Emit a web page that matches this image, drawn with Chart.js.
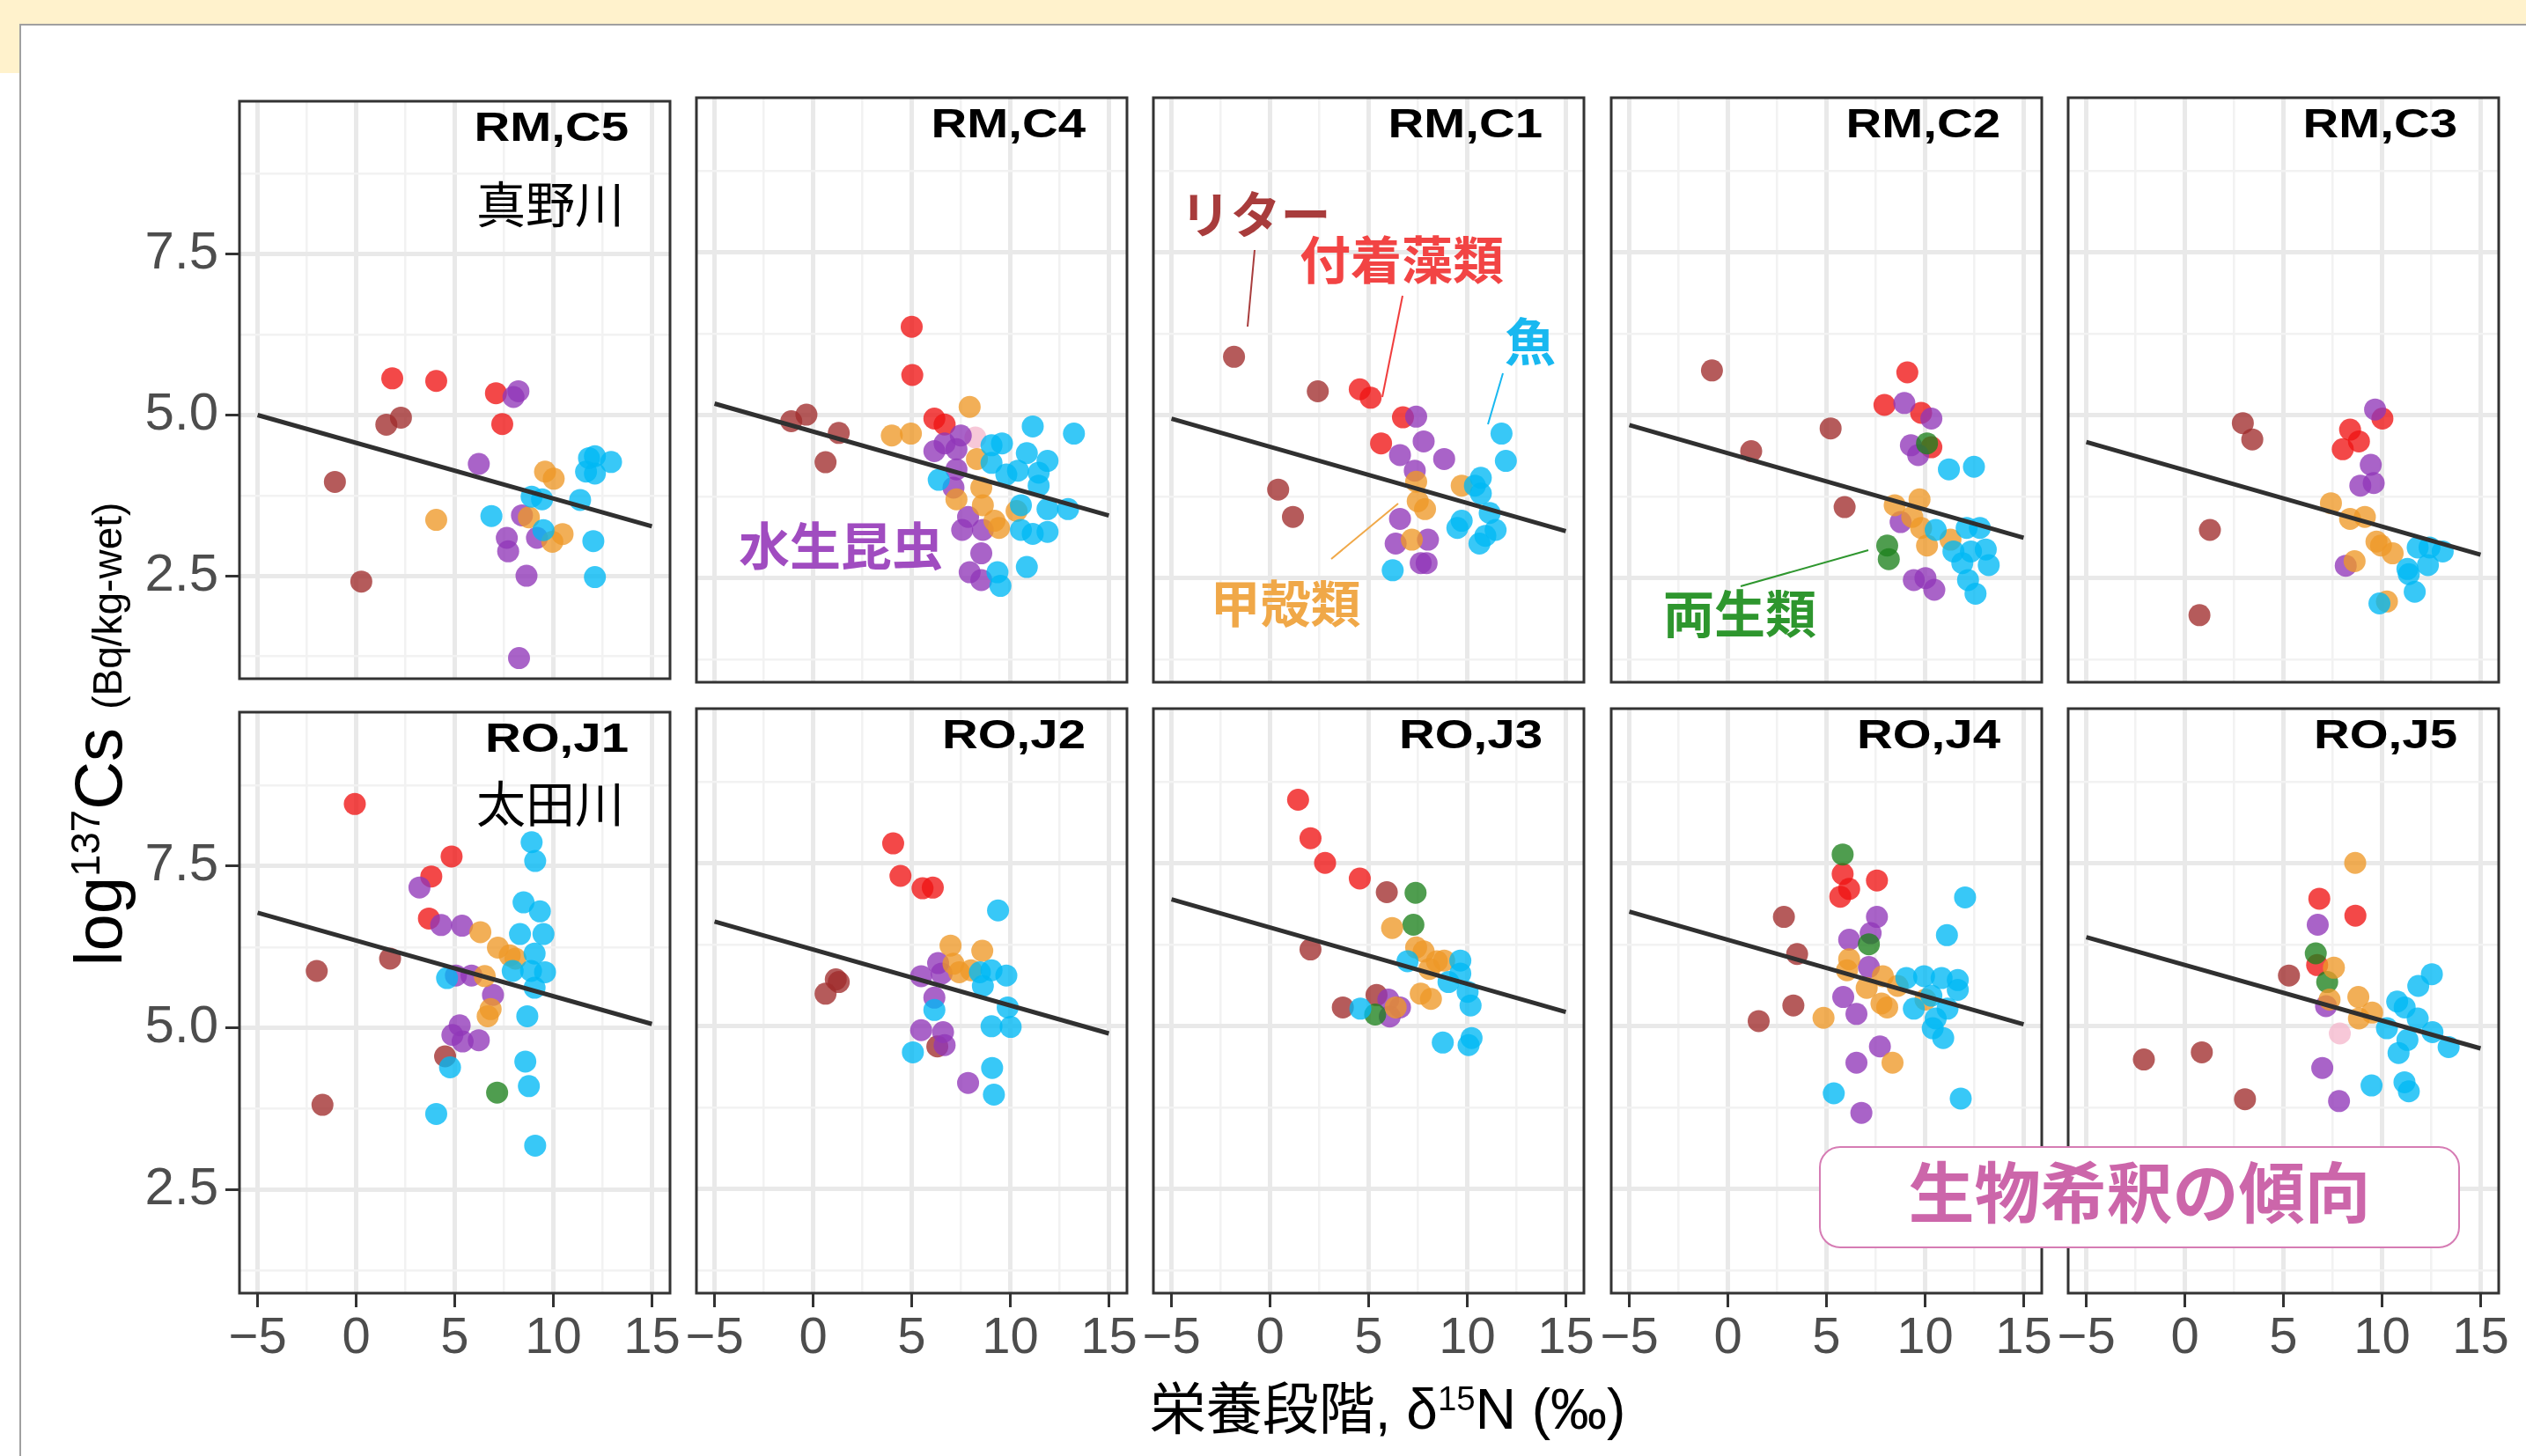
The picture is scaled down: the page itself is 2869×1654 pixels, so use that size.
<!DOCTYPE html>
<html>
<head>
<meta charset="utf-8">
<script src="https://cdn.jsdelivr.net/npm/chart.js@4.4.0/dist/chart.umd.min.js"></script>
<style>
html, body { margin:0; padding:0; background:#fff; }
body { width:2869px; height:1654px; position:relative; overflow:hidden; font-family:"Liberation Sans","Noto Sans CJK JP",sans-serif; }
#band { position:absolute; left:0; top:0; width:2869px; height:28px; background:#fff2cc; }
#band2 { position:absolute; left:0; top:0; width:23px; height:83px; background:#fff2cc; }
#frame { position:absolute; left:22px; top:27px; width:2900px; height:1700px; border:2px solid #a0a0a0; background:#fff; }
canvas { position:absolute; }
.note { position:absolute; font-family:"Noto Sans CJK JP",sans-serif; font-weight:bold; white-space:nowrap; transform:translate(-50%,-50%); line-height:1; }
.sup { font-size:0.6em; position:relative; top:-0.55em; }
#ytitle { position:absolute; left:112px; top:834px; transform:translate(-50%,-50%) rotate(-90deg); white-space:nowrap; font-size:76px; line-height:1; color:#000; }
#xtitle { position:absolute; left:1576px; top:1601px; transform:translate(-50%,-50%); white-space:nowrap; font-size:64px; line-height:1; color:#000; }
#box { position:absolute; left:2066px; top:1302px; width:724px; border:2px solid #d67cb4; border-radius:24px; background:#fff;
       display:flex; align-items:center; justify-content:center; padding-bottom:20px; box-sizing:content-box; height:92px;
       font-family:"Noto Sans CJK JP",sans-serif; font-weight:bold; font-size:75px; color:#cc66aa; }
svg { position:absolute; left:0; top:0; }
</style>
</head>
<body>
<div id="band"></div>
<div id="band2"></div>
<div id="frame"></div>
<div id="charts"></div>

<script>
// facets, two rivers x five sites
var panelNames = ["RM,C5", "RM,C4", "RM,C1", "RM,C2", "RM,C3", "RO,J1", "RO,J2", "RO,J3", "RO,J4", "RO,J5"];

var xTicks = [-5, -2.5, 0, 2.5, 5, 7.5, 10, 12.5, 15];
var xLabels = { "-5": "\u22125", "0": "0", "5": "5", "10": "10", "15": "15" };
var yTicks = [1.25, 2.5, 3.75, 5, 6.25, 7.5, 8.75];
var yLabels = { "2.5": "2.5", "5": "5.0", "7.5": "7.5" };

// [delta15N, log137Cs] per panel
var litter = [
  [[1.53,4.85],[2.27,4.96],[-1.08,3.96],[0.26,2.41]],
  [[-1.11,4.91],[-0.34,5.01],[1.30,4.73],[0.63,4.28]],
  [[-1.83,5.90],[2.42,5.37],[0.41,3.86],[1.16,3.44]],
  [[-0.81,5.69],[1.18,4.45],[5.21,4.80],[5.92,3.59]],
  [[2.94,4.88],[3.42,4.63],[1.27,3.24],[0.74,1.93]],
  [[-2.00,5.88],[1.72,6.07],[-1.71,3.81],[4.51,4.56]],
  [[1.15,5.72],[1.30,5.68],[0.63,5.50],[6.30,4.69]],
  [[5.92,7.06],[2.05,6.18],[5.40,5.48],[3.69,5.29]],
  [[2.84,6.68],[3.51,6.11],[3.32,5.32],[1.56,5.08]],
  [[5.28,5.78],[-2.08,4.49],[0.86,4.60],[3.05,3.88]]
];
var periphyton = [
  [[1.83,5.57],[4.06,5.53],[7.09,5.34],[7.41,4.86]],
  [[5.00,6.36],[5.03,5.62],[6.15,4.95],[6.67,4.86]],
  [[4.55,5.40],[5.10,5.27],[6.74,4.97],[5.63,4.57]],
  [[9.10,5.66],[7.94,5.16],[9.80,5.04],[10.32,4.51]],
  [[10.02,4.95],[8.38,4.78],[8.83,4.60],[8.01,4.48]],
  [[-0.07,8.46],[4.84,7.65],[3.81,7.34],[3.69,6.69]],
  [[4.06,7.81],[4.43,7.31],[5.55,7.12],[6.07,7.13]],
  [[1.42,8.48],[2.05,7.89],[2.79,7.51],[4.55,7.27]],
  [[5.82,7.34],[6.15,7.11],[5.70,6.99],[7.56,7.24]],
  [[6.82,6.96],[8.65,6.70],[6.71,5.94]]
];
var insects = [
  [[8.23,5.37],[7.98,5.28],[6.22,4.24],[8.41,3.44],[7.64,3.09],[7.71,2.88],[9.17,3.09],[8.64,2.50],[8.26,1.22]],
  [[7.49,4.69],[6.67,4.57],[6.15,4.45],[7.27,4.48],[7.27,4.17],[7.12,3.89],[7.86,3.44],[7.56,3.24],[8.61,3.24],[8.53,2.88],[7.94,2.59],[8.53,2.47]],
  [[7.41,4.98],[7.79,4.60],[6.59,4.39],[8.83,4.33],[7.34,4.15],[6.59,3.41],[6.37,3.03],[8.01,3.09],[7.64,2.73],[7.94,2.73]],
  [[8.95,5.19],[10.32,4.95],[9.28,4.54],[9.65,4.39],[8.76,3.36],[9.43,2.47],[10.02,2.50],[10.47,2.32]],
  [[9.65,5.09],[9.43,4.24],[8.90,3.92],[9.58,3.96],[8.16,2.69]],
  [[3.21,7.17],[4.31,6.59],[5.37,6.58],[6.94,5.51],[5.06,5.81],[5.85,5.81],[5.25,5.04],[4.88,4.89],[5.40,4.79],[6.22,4.81]],
  [[6.34,5.97],[5.48,5.77],[6.52,5.81],[6.15,5.44],[5.48,4.94],[6.59,4.91],[6.67,4.71],[7.86,4.13]],
  [[6.00,5.41],[6.59,5.29],[6.07,5.15]],
  [[7.56,6.68],[7.24,6.43],[6.15,6.33],[7.15,5.91],[5.85,5.45],[6.52,5.19],[7.71,4.69],[6.52,4.44],[6.77,3.67]],
  [[6.74,6.56],[7.16,5.31],[6.97,4.36],[7.82,3.85]]
];
var crustaceans = [
  [[4.06,3.37],[9.58,4.12],[10.02,4.01],[8.76,3.41],[10.47,3.15],[9.95,3.03]],
  [[7.94,5.13],[3.99,4.69],[4.96,4.72],[8.31,4.33],[8.53,3.89],[7.27,3.71],[8.61,3.62],[9.20,3.38],[9.43,3.27],[10.32,3.53]],
  [[7.41,3.98],[7.49,3.68],[7.86,3.56],[9.72,3.92],[7.19,3.09]],
  [[9.72,3.71],[8.46,3.62],[9.35,3.44],[9.80,3.27],[10.10,3.00],[11.29,3.09]],
  [[7.41,3.65],[8.38,3.41],[9.13,3.44],[9.72,3.06],[9.95,3.00],[10.54,2.88],[8.61,2.76],[10.25,2.14]],
  [[6.30,6.48],[7.19,6.24],[7.79,6.12],[8.08,6.07],[6.52,5.80],[6.82,5.29],[6.67,5.18]],
  [[6.97,6.24],[8.58,6.16],[7.12,5.96],[7.41,5.83],[8.01,5.86]],
  [[6.19,6.51],[7.41,6.21],[7.79,6.15],[8.46,6.00],[8.83,6.01],[8.08,5.88],[7.64,5.50],[8.16,5.42],[6.37,5.29]],
  [[6.15,6.03],[6.04,5.86],[7.86,5.77],[7.04,5.59],[8.61,5.62],[7.79,5.35],[8.08,5.29],[4.85,5.13],[8.35,4.44],[10.02,5.41]],
  [[8.64,7.51],[7.56,5.90],[8.80,5.45],[9.50,5.21],[8.83,5.12],[7.34,5.41]]
];
var fish = [
  [[12.11,4.36],[11.81,4.33],[12.93,4.27],[11.66,4.12],[12.11,4.09],[8.90,3.73],[9.43,3.69],[11.36,3.68],[6.86,3.43],[9.50,3.21],[12.03,3.04],[12.11,2.48]],
  [[11.14,4.83],[13.23,4.72],[9.05,4.54],[9.58,4.57],[10.84,4.42],[11.89,4.30],[9.05,4.27],[10.39,4.15],[11.44,4.12],[9.80,4.09],[11.44,3.92],[6.37,4.01],[10.54,3.62],[11.89,3.56],[12.93,3.56],[10.54,3.24],[11.89,3.21],[11.14,3.18],[10.84,2.67],[9.35,2.59],[9.50,2.38]],
  [[11.74,4.72],[11.96,4.30],[10.69,4.04],[10.39,3.92],[10.69,3.80],[11.14,3.50],[9.72,3.38],[9.50,3.27],[11.44,3.24],[10.92,3.15],[10.62,3.03],[6.22,2.62]],
  [[11.21,4.17],[12.48,4.21],[10.54,3.24],[12.11,3.27],[12.78,3.27],[11.44,2.91],[12.33,2.91],[13.08,2.94],[13.23,2.70],[11.89,2.73],[12.18,2.47],[12.56,2.26]],
  [[11.81,2.97],[12.41,2.97],[13.08,2.91],[12.33,2.70],[11.29,2.64],[11.36,2.56],[11.66,2.29],[9.87,2.11]],
  [[8.90,7.87],[9.08,7.58],[8.49,6.94],[9.32,6.80],[8.31,6.45],[9.50,6.45],[9.05,6.15],[7.94,5.88],[8.87,5.88],[9.58,5.86],[4.61,5.77],[9.05,5.62],[8.68,5.18],[4.76,4.39],[8.58,4.48],[8.76,4.10],[4.06,3.67],[9.08,3.18]],
  [[9.38,6.78],[8.46,5.83],[9.05,5.86],[9.80,5.78],[8.61,5.62],[6.15,5.25],[9.87,5.29],[9.05,5.00],[10.02,4.99],[5.06,4.60],[9.08,4.36],[9.17,3.95]],
  [[9.65,6.01],[6.97,6.00],[9.65,5.81],[9.05,5.68],[10.02,5.53],[10.17,5.32],[4.58,5.27],[8.76,4.75],[10.22,4.82],[10.07,4.71]],
  [[12.03,6.98],[11.11,6.40],[9.05,5.74],[9.95,5.77],[10.84,5.74],[11.66,5.71],[11.66,5.56],[10.32,5.47],[9.43,5.27],[11.14,5.27],[10.54,5.12],[10.39,4.97],[10.92,4.82],[5.37,3.97],[11.81,3.89]],
  [[12.53,5.80],[11.84,5.62],[10.77,5.38],[11.15,5.29],[11.81,5.12],[10.25,4.97],[12.56,4.91],[11.29,4.79],[13.38,4.68],[10.84,4.59],[9.47,4.09],[11.14,4.14],[11.36,4.00]]
];
var amphibians = [
  [], [], [],
  [[10.10,4.57],[8.08,3.00],[8.16,2.79]],
  [],
  [[7.15,4.00]],
  [],
  [[7.38,7.05],[7.27,6.56],[5.33,5.18]],
  [[5.82,7.64],[7.15,6.26]],
  [[6.64,6.12],[7.22,5.68]]
];
var others = [
  [], [[8.23,4.66]], [], [], [], [], [], [], [], [[7.86,4.89]]
];

// fitted line, value at x = -5 and x = 15
var fitAtMinus5 = [5.00, 5.18, 4.95, 4.85, 4.59, 6.78, 6.61, 6.95, 6.76, 6.37];
var fitAt15     = [3.27, 3.46, 3.22, 3.12, 2.86, 5.06, 4.89, 5.22, 5.03, 4.66];

var subNames = ["真野川", "", "", "", "", "太田川", "", "", "", ""];

var groups = [
  { data: fish,        color: "rgba(0,185,245,0.78)" },
  { data: crustaceans, color: "rgba(238,152,40,0.78)" },
  { data: amphibians,  color: "rgba(30,130,30,0.78)" },
  { data: insects,     color: "rgba(145,55,185,0.78)" },
  { data: periphyton,  color: "rgba(240,20,20,0.78)" },
  { data: litter,      color: "rgba(160,45,45,0.78)" },
  { data: others,      color: "rgba(245,185,205,0.78)" }
];

var panelLeft = [272, 791, 1310, 1830, 2349];
var panelTop = [111, 805];
var panelW = 489, panelH = 664;
var M = 40, yAxisW = 272, xAxisH = 110;

function isMajorX(v) { return Math.abs(v % 5) < 1e-6; }
function isMajorY(v) { return Math.abs(v / 2.5 - Math.round(v / 2.5)) < 1e-6; }

var framePlugin = {
  id: "frame",
  afterDatasetsDraw: function(chart) {
    var a = chart.chartArea, ctx = chart.ctx;
    var o = chart.options.plugins.frame;
    ctx.save();
    ctx.strokeStyle = "#333";
    ctx.lineWidth = 3;
    ctx.strokeRect(a.left, a.top, a.right - a.left, a.bottom - a.top);
    ctx.fillStyle = "#000";
    ctx.textAlign = "right";
    ctx.textBaseline = "middle";
    ctx.translate(a.right - 47, a.top + 32);
    ctx.scale(1.2, 1);
    ctx.font = "bold 47px 'Liberation Sans'";
    ctx.fillText(o.label, 0, 0);
    ctx.restore();
    if (o.sub) {
      ctx.save();
      ctx.fillStyle = "#000";
      ctx.textAlign = "right";
      ctx.textBaseline = "middle";
      ctx.font = "56px 'Noto Sans CJK JP'";
      ctx.fillText(o.sub, a.right - 52, a.top + o.subY);
      ctx.restore();
    }
  }
};

var holder = document.getElementById("charts");

for (var i = 0; i < 10; i++) {
  var r = Math.floor(i / 5), c = i % 5;
  var leftPad = c == 0 ? yAxisW : M;
  var bottomPad = r == 1 ? xAxisH : M;
  var cv = document.createElement("canvas");
  cv.width = leftPad + panelW + M;
  cv.height = M + panelH + bottomPad;
  cv.style.left = (panelLeft[c] - leftPad) + "px";
  cv.style.top = (panelTop[r] - M) + "px";
  holder.appendChild(cv);

  var datasets = [{
    data: [{ x: -5, y: fitAtMinus5[i] }, { x: 15, y: fitAt15[i] }],
    showLine: true,
    borderColor: "#303030",
    borderWidth: 5,
    pointRadius: 0,
    order: 0
  }];
  groups.forEach(function(g, k) {
    datasets.push({
      data: g.data[i].map(function(p) { return { x: p[0], y: p[1] }; }),
      backgroundColor: g.color,
      borderWidth: 0,
      pointRadius: 12.5,
      pointHoverRadius: 12.5,
      order: 1 + k
    });
  });

  var showX = r == 1, showY = c == 0;

  new Chart(cv, {
    type: "scatter",
    data: { datasets: datasets },
    plugins: [framePlugin],
    options: {
      responsive: false,
      animation: false,
      events: [],
      layout: { padding: { left: c == 0 ? 0 : M, right: M, top: M, bottom: r == 1 ? 0 : M } },
      plugins: {
        legend: { display: false },
        tooltip: { enabled: false },
        frame: { label: panelNames[i], sub: subNames[i], subY: r == 0 ? 117 : 104 }
      },
      scales: {
        x: {
          type: "linear",
          min: -5.92, max: 15.92,
          afterBuildTicks: function(s) { s.ticks = xTicks.map(function(v) { return { value: v }; }); },
          afterFit: (function(h) { return function(s) { s.height = h; }; })(showX ? xAxisH : 0),
          border: { display: false },
          grid: {
            color: function(ctx) { return isMajorX(ctx.tick.value) ? "#e9e9e9" : "#f2f2f2"; },
            lineWidth: function(ctx) { return isMajorX(ctx.tick.value) ? 5 : 2.5; },
            drawTicks: showX,
            tickLength: 16,
            tickWidth: 3,
            tickColor: function(ctx) { return isMajorX(ctx.tick.value) ? "#333" : "rgba(0,0,0,0)"; }
          },
          ticks: {
            display: showX,
            autoSkip: false,
            maxRotation: 0,
            padding: 1,
            color: "#4d4d4d",
            font: { family: "'Liberation Sans'", size: 58 },
            callback: function(v) { return xLabels[String(v)] || ""; }
          }
        },
        y: {
          type: "linear",
          min: 0.9, max: 9.88,
          afterBuildTicks: function(s) { s.ticks = yTicks.map(function(v) { return { value: v }; }); },
          afterFit: (function(w) { return function(s) { s.width = w; }; })(showY ? yAxisW : 0),
          border: { display: false },
          grid: {
            color: function(ctx) { return isMajorY(ctx.tick.value) ? "#e9e9e9" : "#f2f2f2"; },
            lineWidth: function(ctx) { return isMajorY(ctx.tick.value) ? 5 : 2.5; },
            drawTicks: showY,
            tickLength: 16,
            tickWidth: 3,
            tickColor: function(ctx) { return isMajorY(ctx.tick.value) ? "#333" : "rgba(0,0,0,0)"; }
          },
          ticks: {
            display: showY,
            autoSkip: false,
            padding: 8,
            color: "#4d4d4d",
            font: { family: "'Liberation Sans'", size: 60 },
            callback: function(v) { return yLabels[String(v)] || ""; }
          }
        }
      }
    }
  });
}
</script>

<svg width="2869" height="1654">
  <line x1="1425" y1="284" x2="1417" y2="371" stroke="#a83c3c" stroke-width="2"/>
  <line x1="1593" y1="336" x2="1570" y2="451" stroke="#f03c3c" stroke-width="2"/>
  <line x1="1707" y1="424" x2="1690" y2="482" stroke="#18b8f0" stroke-width="2"/>
  <line x1="1512" y1="635" x2="1588" y2="572" stroke="#f0a848" stroke-width="2"/>
  <line x1="1977" y1="666" x2="2122" y2="625" stroke="#2e962e" stroke-width="2"/>
</svg>

<div class="note" style="left:1426px; top:240px; font-size:57px; color:#a83c3c;">リター</div>
<div class="note" style="left:1592px; top:292px; font-size:58px; color:#f24444;">付着藻類</div>
<div class="note" style="left:1738px; top:385px; font-size:58px; color:#18b8f0;">魚</div>
<div class="note" style="left:1460px; top:682px; font-size:57px; color:#f0a848;">甲殻類</div>
<div class="note" style="left:955px; top:617px; font-size:58px; color:#a04cc0;">水生昆虫</div>
<div class="note" style="left:1976px; top:694px; font-size:58px; color:#2e962e;">両生類</div>

<div id="box">生物希釈の傾向</div>

<div id="ytitle">log<span class="sup">137</span>Cs <span style="font-size:46px">(Bq/kg-wet)</span></div>
<div id="xtitle">栄養段階, δ<span class="sup">15</span>N (‰)</div>
</body>
</html>
